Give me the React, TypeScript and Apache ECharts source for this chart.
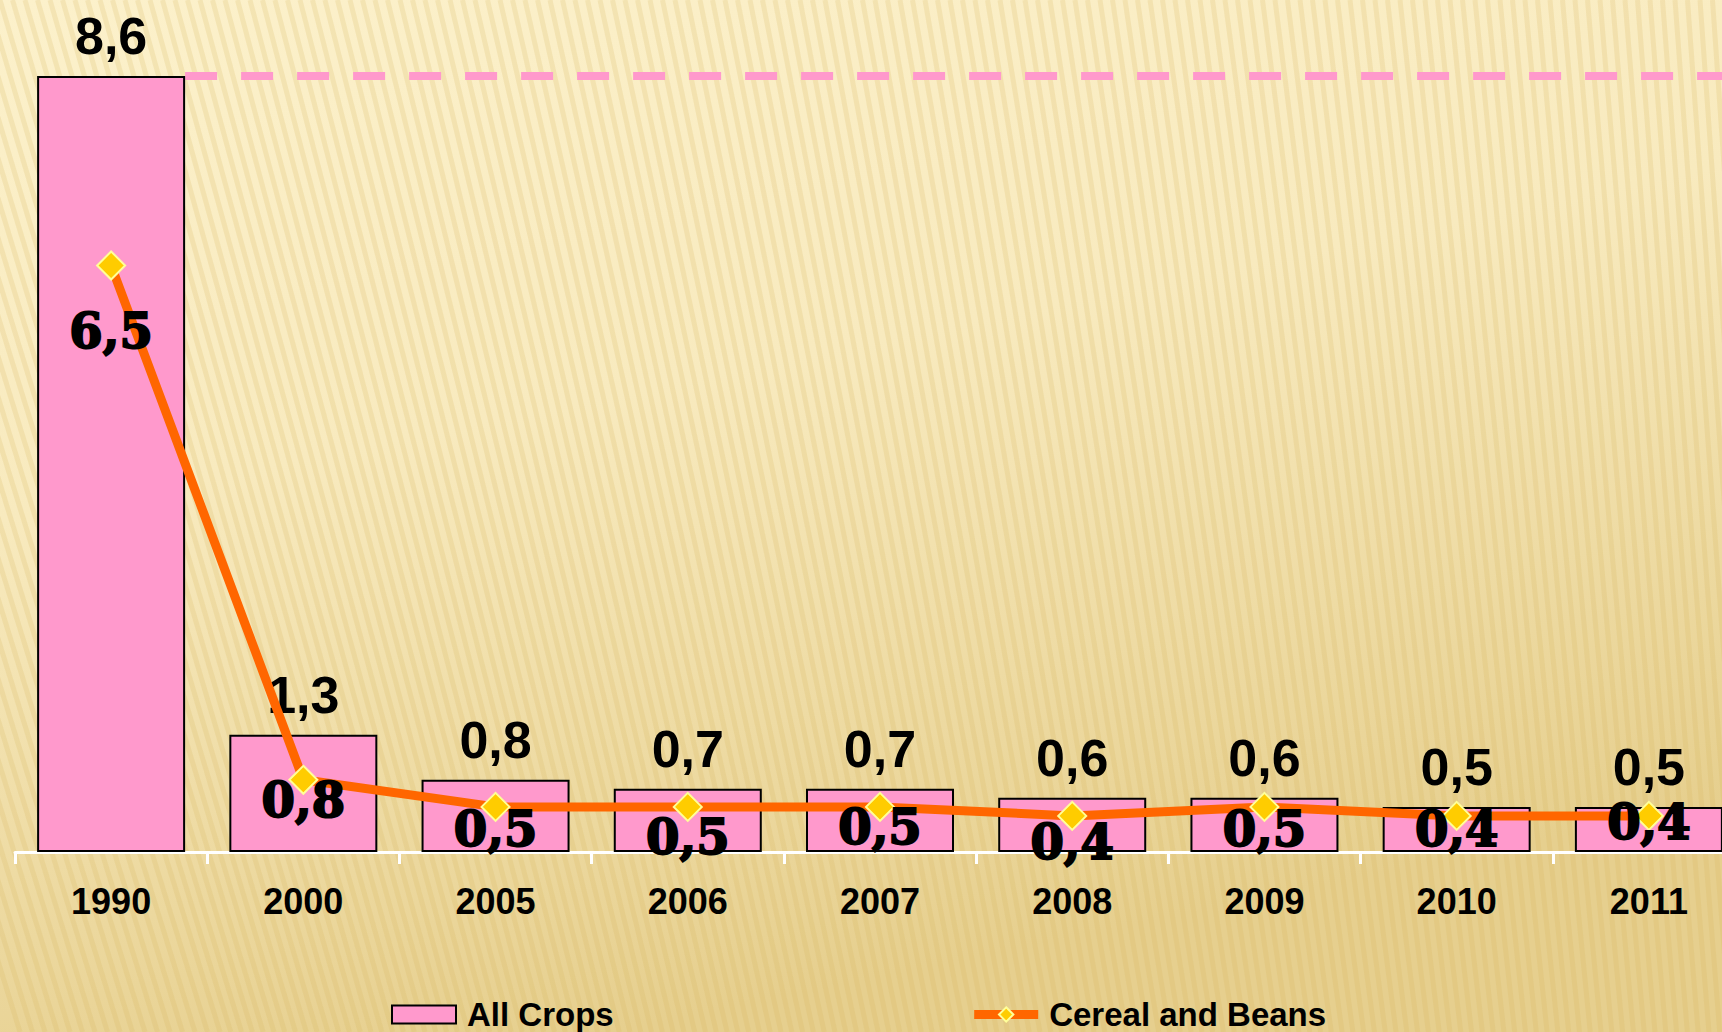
import React, { useEffect, useRef } from "react";
import * as echarts from "echarts";

const categories = ["1990", "2000", "2005", "2006", "2007", "2008", "2009", "2010", "2011"];
const allCrops = [8.6, 1.3, 0.8, 0.7, 0.7, 0.6, 0.6, 0.5, 0.5];
const cerealAndBeans = [6.5, 0.8, 0.5, 0.5, 0.5, 0.4, 0.5, 0.4, 0.4];
const seriesNames = ["All Crops", "Cereal and Beans"];
const referenceLevel = 8.6;

// label vertical offsets (style only)
const lineLabelDy = [66, 20, 22, 30, 20, 26, 22, 13, 6];

const CHART_W = 1750;
const GRID_LEFT = 15;
const GRID_W = 1730;
const BAR_W = 148;

const fmt = (v: number) => v.toFixed(1).replace(".", ",");

function stripes() {
  const els: any[] = [];
  for (let x = -300; x < CHART_W + 40; x += 12.5) {
    const slant = 260 * (1 - Math.max(0, Math.min(1, (x + 100) / 1900))) + 60;
    els.push({
      type: "line",
      silent: true,
      z: 0,
      shape: { x1: x, y1: 0, x2: x + slant, y2: 1032 },
      style: { stroke: "rgba(214,178,92,0.2)", lineWidth: 5 },
    });
  }
  return els;
}

export default function App() {
  const ref = useRef<HTMLDivElement>(null);
  useEffect(() => {
    document.body.style.margin = "0";
    document.body.style.overflow = "hidden";
    document.documentElement.style.overflow = "hidden";
    const chart = echarts.init(ref.current!, null, { renderer: "svg" });
    const n = categories.length;
    const barRightEdge = 0.5 + BAR_W / 2 / (GRID_W / n);
    chart.setOption({
      animation: false,
      backgroundColor: new echarts.graphic.LinearGradient(0, 0, 0.35, 1, [
        { offset: 0, color: "#FCF1CB" },
        { offset: 0.45, color: "#F8EABE" },
        { offset: 1, color: "#E6CF8E" },
      ]),
      graphic: stripes(),
      grid: { left: GRID_LEFT, width: GRID_W, top: 76, bottom: 180, containLabel: false },
      xAxis: [
        {
          type: "category",
          data: categories,
          boundaryGap: true,
          axisLine: { show: true, lineStyle: { color: "#FFFFFF", width: 3 } },
          axisTick: { show: true, length: 12, lineStyle: { color: "#FFFFFF", width: 3 } },
          axisLabel: {
            color: "#000",
            fontSize: 36,
            fontWeight: "bold",
            fontFamily: "Liberation Sans, Arial, sans-serif",
            margin: 31,
          },
          splitLine: { show: false },
        },
        { type: "value", min: 0, max: n, show: false, splitLine: { show: false } },
      ],
      yAxis: {
        type: "value",
        min: 0,
        max: referenceLevel,
        show: false,
        splitLine: { show: false },
      },
      legend: {
        left: 386,
        top: 993,
        itemWidth: 64,
        itemHeight: 18,
        itemGap: 356,
        textStyle: {
          color: "#000",
          fontSize: 33,
          fontWeight: "bold",
          fontFamily: "Liberation Sans, Arial, sans-serif",
          padding: [0, 0, 0, 6],
        },
        data: [
          {
            name: seriesNames[0],
            icon: "rect",
            itemStyle: { color: "#FF99CC", borderColor: "#000", borderWidth: 2 },
          },
          {
            name: seriesNames[1],
            lineStyle: { color: "#FF6600", width: 9 },
            itemStyle: { color: "#FFCC00", borderColor: "#FFFF99", borderWidth: 2 },
          },
        ],
      },
      series: [
        {
          name: "ref",
          type: "line",
          xAxisIndex: 1,
          data: [
            [barRightEdge, referenceLevel],
            [n, referenceLevel],
          ],
          z: 1,
          silent: true,
          showSymbol: false,
          symbol: "none",
          lineStyle: { color: "#FF99CC", width: 8, type: [32, 24] },
        },
        {
          name: seriesNames[0],
          type: "bar",
          data: allCrops,
          barWidth: BAR_W,
          z: 3,
          itemStyle: { color: "#FF99CC", borderColor: "#000", borderWidth: 2 },
          label: {
            show: true,
            position: "top",
            distance: 14,
            color: "#000",
            fontSize: 52,
            fontWeight: "bold",
            fontFamily: "Liberation Sans, Arial, sans-serif",
            formatter: (p: any) => fmt(p.value),
          },
        },
        {
          name: seriesNames[1],
          type: "line",
          z: 5,
          data: cerealAndBeans.map((v, i) => ({
            value: v,
            label: { offset: [0, lineLabelDy[i]] },
          })),
          symbol: "diamond",
          symbolSize: 28,
          lineStyle: { color: "#FF6600", width: 9 },
          itemStyle: { color: "#FFCC00", borderColor: "#FFFF99", borderWidth: 2 },
          label: {
            show: true,
            position: "inside",
            color: "#000",
            fontSize: 48,
            fontWeight: 900,
            fontFamily: "DejaVu Serif, serif",
            textBorderColor: "#000",
            textBorderWidth: 2,
            formatter: (p: any) => fmt(p.value),
          },
        },
      ],
    });
    return () => chart.dispose();
  }, []);
  return <div ref={ref} style={{ width: CHART_W, height: 1032 }} />;
}
